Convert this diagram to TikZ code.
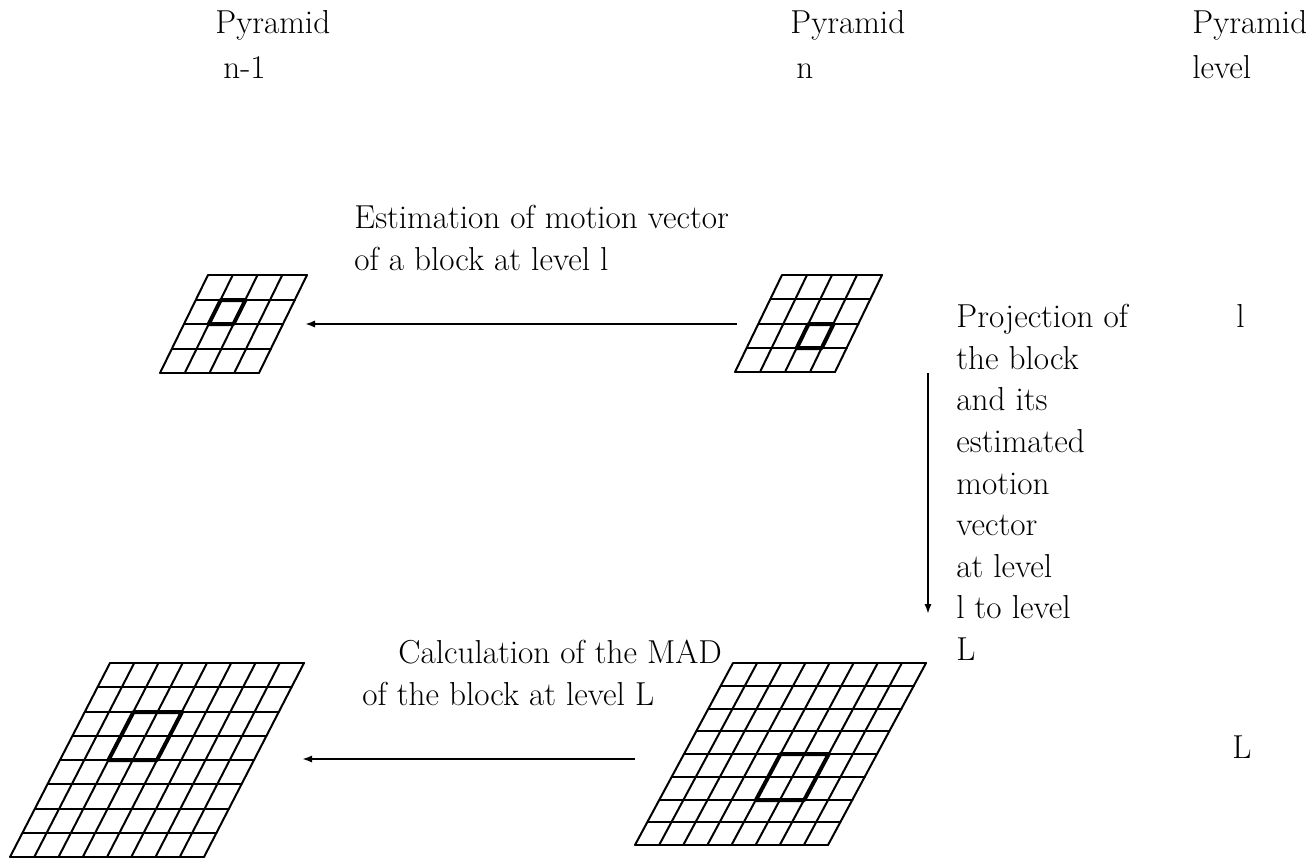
\documentclass[tikz,border=0pt]{standalone}
\usetikzlibrary{arrows.meta}
\tikzset{
  gridline/.style={line width=1pt, line cap=round, line join=round},
  blockline/.style={line width=2pt, line join=round},
  flowarrow/.style={line width=1pt, -{Latex[length=5pt,width=3.6pt]}},
  lbl/.style={anchor=base west, inner sep=0pt, font=\fontsize{16.6}{21}\selectfont}
}
% parallelogram grid: uses \gx \gy (top-left corner), \gw (width), \gh (height), \gs (shear), \gn (cells)
\newcommand{\pgriddraw}{%
  \foreach \i in {0,...,\gn}{
    \draw[gridline] ({\gx-\i*\gs/\gn},{round(\gy+\i*\gh/\gn)}) -- ++(\gw,0);
    \draw[gridline] ({\gx+\i*\gw/\gn},\gy) -- ++(-\gs,\gh);
  }}
\newcommand{\gpt}[2]{({\gx+(#1)*\gw/\gn-(#2)*\gs/\gn},{round(\gy+(#2)*\gh/\gn)})}
\newcommand{\pblock}[4]{\draw[blockline] \gpt{#1}{#2} -- \gpt{#3}{#2} -- \gpt{#3}{#4} -- \gpt{#1}{#4} -- cycle;}
\begin{document}
\begin{tikzpicture}[x=0.5pt,y=-0.5pt]
\useasboundingbox (0,0) rectangle (1306,858);

% headers
\node[lbl] (h1a) at (215,33) {Pyramid};
\node[lbl] (h1b) at (223,78) {n-1};
\node[lbl] (h2a) at (790,33) {Pyramid};
\node[lbl] (h2b) at (796,78) {n};
\node[lbl] (h3a) at (1192,33) {Pyramid};
\node[lbl] (h3b) at (1192,78) {level};

% level labels
\node[lbl] (lvl1) at (1236,327) {l};
\node[lbl] (lvl2) at (1232,758) {L};

% grid A: level l, pyramid n-1
\begin{scope}
\def\gx{208}\def\gy{275}\def\gw{99}\def\gh{98}\def\gs{48}\def\gn{4}
\pgriddraw
\pblock{1}{1}{2}{2}
\end{scope}

% grid B: level l, pyramid n
\begin{scope}
\def\gx{782}\def\gy{275}\def\gw{100}\def\gh{97}\def\gs{47}\def\gn{4}
\pgriddraw
\pblock{2}{2}{3}{3}
\end{scope}

% grid C: level L, pyramid n-1
\begin{scope}
\def\gx{110}\def\gy{663}\def\gw{194}\def\gh{194}\def\gs{100}\def\gn{8}
\pgriddraw
\pblock{2}{2}{4}{4}
\end{scope}

% grid D: level L, pyramid n
\begin{scope}
\def\gx{733}\def\gy{663}\def\gw{193}\def\gh{182}\def\gs{98}\def\gn{8}
\pgriddraw
\pblock{4}{4}{6}{6}
\end{scope}

% arrow end points
\coordinate (a1s) at (737,324);
\coordinate (a1e) at (305,324);
\coordinate (a2s) at (928,373);
\coordinate (a2e) at (928,614);
\coordinate (a3s) at (635,759);
\coordinate (a3e) at (302,759);

\draw[flowarrow] (a1s) -- (a1e);
\draw[flowarrow] (a2s) -- (a2e);
\draw[flowarrow] (a3s) -- (a3e);

% arrow labels
\node[lbl] (t1a) at (354,228) {Estimation of motion vector};
\node[lbl] (t1b) at (354,270) {of a block at level l};

\node[lbl] (t2a) at (398,663) {Calculation of the MAD};
\node[lbl] (t2b) at (362,705) {of the block at level L};

\node[lbl] (p1) at (956,327) {Projection of};
\node[lbl] (p2) at (956,369) {the block};
\node[lbl] (p3) at (956,410) {and its};
\node[lbl] (p4) at (956,452) {estimated};
\node[lbl] (p5) at (956,494) {motion};
\node[lbl] (p6) at (956,535) {vector};
\node[lbl] (p7) at (956,577) {at level};
\node[lbl] (p8) at (956,618) {l to level};
\node[lbl] (p9) at (956,660) {L};
\end{tikzpicture}
\end{document}
